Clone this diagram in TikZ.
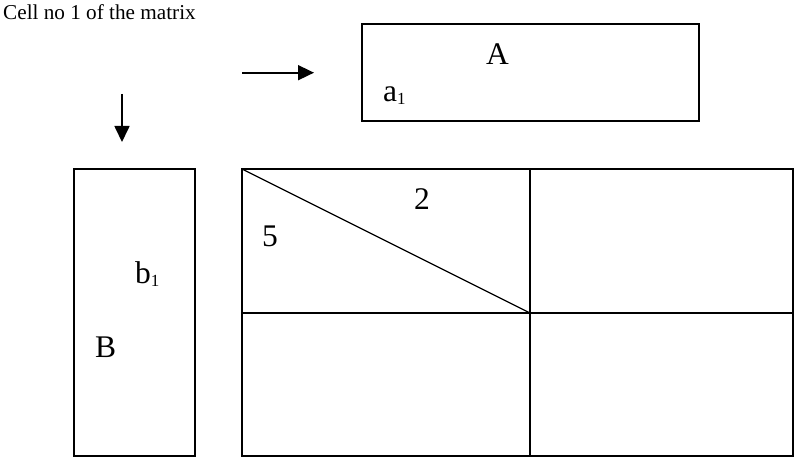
\documentclass[tikz,border=0pt]{standalone}
\usepackage{fontspec}
\setmainfont{Liberation Serif}
\usetikzlibrary{positioning, arrows.meta}

\newcommand{\lowidx}[1]{\raisebox{-3pt}{\fontsize{17}{17}\selectfont #1}}

\begin{document}
\begin{tikzpicture}[
      x=1pt, y=-1pt,
      box/.style={rectangle, draw, line width=1.2pt, inner sep=0pt, outer sep=0pt},
      cell/.style={rectangle, draw, line width=1.2pt, inner sep=0pt, outer sep=0pt,
        minimum width=#1},
      lbl/.style={inner sep=0pt, font=\fontsize{31.5}{33}\selectfont},
      arrow/.style={-{Triangle[length=16pt, width=15pt]}, line width=1.7pt}
    ]
    \useasboundingbox (0,0) rectangle (795,457);

    \node[inner sep=0pt, anchor=base west, font=\fontsize{21.2}{23}\selectfont]
      (title) at (3,20) {Cell no 1 of the matrix};

    % vectors
    \node[box, minimum width=337pt, minimum height=97pt] (vecA) at (530.5,72.5) {};
    \node[box, minimum width=121pt, minimum height=287pt] (vecB) at (134.5,312.5) {};
    \node[lbl, anchor=base] (labA) at (497.5,65) {A};
    \node[lbl, anchor=base west] (a1) at (383,102) {a\lowidx{1}};
    \node[lbl, anchor=base west] (labB) at (95,357) {B};
    \node[lbl, anchor=base west] (b1) at (135,283) {b\lowidx{1}};

    % matrix cells
    \node[cell=288pt, minimum height=144pt] (c11) at (386,241) {};
    \node[cell=263pt, minimum height=144pt, right=0pt of c11] (c12) {};
    \node[cell=288pt, minimum height=143pt, below=0pt of c11] (c21) {};
    \node[cell=263pt, minimum height=143pt, right=0pt of c21] (c22) {};
    \draw[line width=1.2pt] (c11.north west) -- (c11.south east);
    \node[lbl, anchor=base] (two) at (422,210) {2};
    \node[lbl, anchor=base] (five) at (270,247) {5};

    % arrows
    \coordinate (rs) at (242,72.7);
    \coordinate (re) at (314,72.7);
    \coordinate (ds) at (122,94);
    \coordinate (de) at (122,142);
    \draw[arrow] (rs) -- (re);
    \draw[arrow] (ds) -- (de);
  \end{tikzpicture}
\end{document}
